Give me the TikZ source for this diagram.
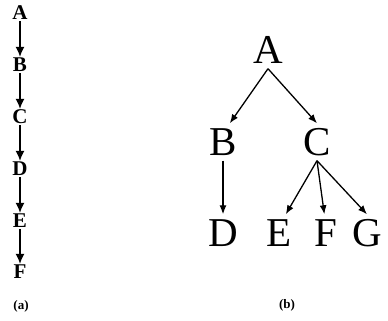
\documentclass[tikz,border=0pt]{standalone}
\usepackage{fontspec}
\setmainfont{Liberation Serif}
\usetikzlibrary{arrows.meta}
\begin{document}
\begin{tikzpicture}[x=1pt,y=1pt,
  lnode/.style={font=\bfseries\fontsize{21}{21}\selectfont,text height=13.8pt,text depth=0pt,inner sep=1pt,anchor=center},
  tnode/.style={font=\fontsize{41}{41}\selectfont,text height=27pt,text depth=0pt,inner sep=5pt,anchor=center},
  lab/.style={font=\bfseries\fontsize{13}{13}\selectfont,anchor=center},
  larr/.style={line width=1.4pt,-{Latex[length=10pt,width=9pt]}},
  tarr/.style={line width=1.3pt,-{Latex[length=9pt,width=7pt]}}]
\useasboundingbox (0,0) rectangle (388,321);
\fill[white] (0,0) rectangle (388,321);
% (a)
\node[lnode] (la) at (20,308) {A};
\node[lnode] (lb) at (20,256) {B};
\node[lnode] (lc) at (20,204) {C};
\node[lnode] (ld) at (20,152) {D};
\node[lnode] (le) at (20,100) {E};
\node[lnode] (lf) at (20,49) {F};
\draw[larr] (la) -- (lb);
\draw[larr] (lb) -- (lc);
\draw[larr] (lc) -- (ld);
\draw[larr] (ld) -- (le);
\draw[larr] (le) -- (lf);
\node[lab] (capa) at (21,15) {(a)};
% (b)
\node[tnode] (A) at (268,271) {A};
\node[tnode] (B) at (223,179) {B};
\node[tnode] (C) at (317,179) {C};
\node[tnode] (D) at (223,88) {D};
\node[tnode] (E) at (279,88) {E};
\node[tnode] (F) at (326,88) {F};
\node[tnode] (G) at (367,88) {G};
\draw[tarr] (A.south) -- (B.70);
\draw[tarr] (A.south) -- (C.north);
\draw[tarr] (B.south) -- (D.north);
\draw[tarr] (C.south) -- (E.70);
\draw[tarr] (C.south) -- (F.95);
\draw[tarr] (C.south) -- (G.north);
\node[lab] (capb) at (287,16) {(b)};
\end{tikzpicture}
\end{document}
